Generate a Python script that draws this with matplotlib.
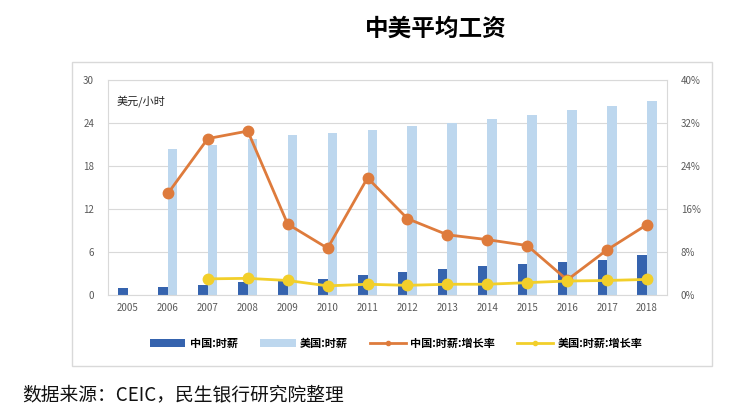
import numpy as np
import matplotlib.pyplot as plt
from matplotlib.patches import Rectangle

plt.rcParams['font.family'] = ['Noto Sans CJK SC', 'DejaVu Sans']

years = ['2005', '2006', '2007', '2008', '2009', '2010', '2011',
         '2012', '2013', '2014', '2015', '2016', '2017', '2018']
cn_wage = [0.95, 1.15, 1.35, 1.85, 2.0, 2.3, 2.85, 3.2, 3.6, 4.0, 4.35, 4.6, 4.95, 5.65]
us_wage = [0, 20.4, 20.9, 21.7, 22.3, 22.6, 23.0, 23.6, 24.0, 24.5, 25.1, 25.8, 26.4, 27.1]
cn_growth = [np.nan, 18.9, 29.1, 30.5, 13.2, 8.7, 21.8, 14.2, 11.2, 10.3, 9.2, 2.8, 8.4, 13.1]
us_growth = [np.nan, np.nan, 3.0, 3.1, 2.7, 1.7, 2.0, 1.8, 2.0, 2.0, 2.3, 2.6, 2.7, 2.9]

c_cn = '#3563AE'
c_us = '#BDD7EE'
c_cng = '#DE7B3C'
c_usg = '#F2CF2A'
grid_c = '#D9D9D9'
tick_c = '#595959'

fig = plt.figure(figsize=(7.54, 4.19), dpi=100)

# chart frame
fig.patches.append(Rectangle((72 / 754, 1 - 366 / 419), 640 / 754, 304 / 419,
                             transform=fig.transFigure, fill=False,
                             edgecolor='#D9D9D9', linewidth=1))

ax = fig.add_axes([108 / 754, 1 - 295 / 419, 559 / 754, 215 / 419])
x = np.arange(len(years))
w = 0.24
ax.bar(x - w / 2, cn_wage, w, color=c_cn, label='中国:时薪', zorder=2)
ax.bar(x + w / 2, us_wage, w, color=c_us, label='美国:时薪', zorder=2)
ax.set_xlim(-0.5, len(years) - 0.5)
ax.set_ylim(0, 30)
ax.set_yticks(range(0, 31, 6))
ax.set_xticks(x)
ax.set_xticklabels(years)
ax.grid(axis='y', color=grid_c, linewidth=0.8, zorder=0)
ax.tick_params(length=0, labelsize=7, colors=tick_c, pad=6)
ax.tick_params(axis='y', pad=10)
for s in ax.spines.values():
    s.set_color(grid_c)
    s.set_linewidth(0.8)
ax.text(0.015, 0.9, '美元/小时', transform=ax.transAxes, fontsize=8, color='#222222',
        va='center')

ax2 = ax.twinx()
ax2.plot(x, cn_growth, color=c_cng, linewidth=2.0, marker='o', markersize=7.5,
         label='中国:时薪:增长率', zorder=3)
ax2.plot(x, us_growth, color=c_usg, linewidth=2.0, marker='o', markersize=7.5,
         label='美国:时薪:增长率', zorder=3)
ax2.set_ylim(0, 40)
ax2.set_yticks(range(0, 41, 8))
ax2.set_yticklabels([f'{v}%' for v in range(0, 41, 8)])
ax2.tick_params(length=0, labelsize=7, colors=tick_c, pad=10)
for s in ax2.spines.values():
    s.set_visible(False)

h1, l1 = ax.get_legend_handles_labels()
h2, l2 = ax2.get_legend_handles_labels()
fig.legend(h1 + h2, l1 + l2, loc='center', bbox_to_anchor=(396 / 754, 1 - 343 / 419),
           ncol=4, frameon=False, prop={'size': 8, 'weight': 'bold'},
           handlelength=3.2, columnspacing=2.0, handletextpad=0.4, markerscale=0.4)

fig.text(436 / 754, 1 - 29 / 419, '中美平均工资', ha='center', va='center',
         fontsize=17, fontweight='bold')
fig.text(22 / 754, 1 - 395 / 419, '数据来源：CEIC，民生银行研究院整理', ha='left',
         va='center', fontsize=13.5, color='#111111')

fig.savefig('out.png', dpi=100)
